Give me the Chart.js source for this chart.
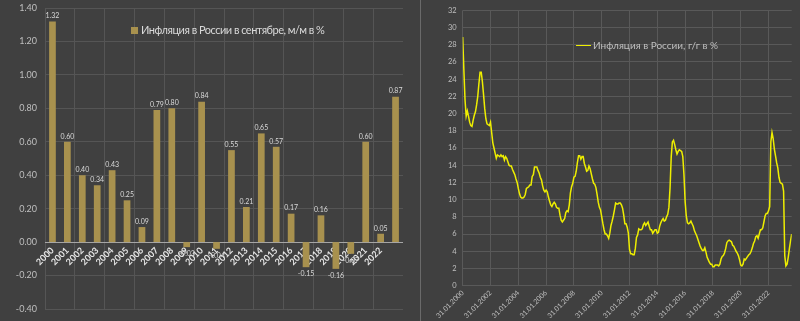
<!DOCTYPE html>
<html><head><meta charset="utf-8">
<script src="https://cdn.jsdelivr.net/npm/chart.js@4.4.0/dist/chart.umd.min.js"></script>
<style>
html,body{margin:0;padding:0;background:#404040;width:800px;height:321px;overflow:hidden;}
#wrap{position:relative;width:800px;height:321px;background:#404040;}
#c1{position:absolute;left:0;top:0;}
#c2{position:absolute;left:403px;top:0;}
.leg{position:absolute;font-family:Lato,'Open Sans',sans-serif;white-space:nowrap;line-height:14px;}
</style></head><body>
<div id="wrap">
<canvas id="c1" width="403" height="321"></canvas>
<canvas id="c2" width="397" height="321"></canvas>
<div style="position:absolute;left:420px;top:0;width:1px;height:321px;background:#6a6a6a"></div>
<div class="leg" style="left:131px;top:23px;font-size:11px;letter-spacing:-0.5px;color:#d9d9d9"><span style="display:inline-block;width:7px;height:7px;background:#a8914e;margin-right:3px;"></span>Инфляция в России в сентябре, м/м в %</div>
<div class="leg" style="left:576px;top:38px;font-size:10px;color:#bfbfbf"><span style="display:inline-block;width:15px;height:1.5px;background:#eeee00;margin-right:2px;vertical-align:3px"></span>Инфляция в России, г/г в %</div>
</div>
<script>
// Left chart: September m/m inflation, %
const years = ['2000','2001','2002','2003','2004','2005','2006','2007','2008','2009','2010','2011',
               '2012','2013','2014','2015','2016','2017','2018','2019','2020','2021','2022',''];
const septMoM = [1.32,0.60,0.40,0.34,0.43,0.25,0.09,0.79,0.80,-0.03,0.84,-0.04,
                 0.55,0.21,0.65,0.57,0.17,-0.15,0.16,-0.16,-0.07,0.60,0.05,0.87];
const barLegend = 'Инфляция в России в сентябре, м/м в %';

// Right chart: y/y inflation, monthly from Jan 2000 to Sep 2023, %
const cpiYoY = [
 28.9,25.1,21.6,19.7,20.3,19.7,19.0,18.6,18.5,19.2,19.8,20.2, // 2000
 21.0,22.0,23.5,24.8,24.8,23.7,22.2,20.6,19.4,18.8,18.7,18.6, // 2001
 19.0,17.8,16.6,16.0,15.4,14.8,15.2,15.1,15.0,15.2,15.0,15.1, // 2002
 14.6,15.0,14.8,14.4,14.0,13.9,13.9,13.5,13.2,12.9,12.4,12.0, // 2003
 11.3,10.7,10.3,10.2,10.2,10.3,10.6,11.3,11.4,11.5,11.7,11.7, // 2004
 12.7,12.9,13.8,13.8,13.8,13.4,13.1,12.6,12.3,11.6,11.1,10.9, // 2005
 11.1,10.9,10.3,9.8,9.4,9.2,9.5,9.7,9.5,9.1,9.0,9.0,         // 2006
 8.2,7.6,7.4,7.6,7.8,8.5,8.7,8.6,9.4,10.8,11.5,11.9,         // 2007
 12.6,12.7,13.3,14.3,15.1,15.1,14.7,15.0,15.0,14.2,13.8,13.3, // 2008
 13.4,13.9,13.6,13.0,12.4,11.9,11.8,11.4,10.6,9.7,9.1,8.8,   // 2009
 8.0,7.2,6.5,6.0,6.0,5.8,5.5,6.1,7.0,7.5,8.1,8.8,            // 2010
 9.6,9.5,9.5,9.6,9.6,9.4,9.0,8.2,7.2,7.2,6.8,6.1,            // 2011
 4.2,3.7,3.7,3.6,3.6,4.3,5.6,5.9,6.6,6.5,6.5,6.6,            // 2012
 7.1,7.3,7.0,7.2,7.4,6.9,6.5,6.5,6.1,6.3,6.5,6.5,            // 2013
 6.1,6.2,6.9,7.3,7.6,7.8,7.5,7.6,8.0,8.3,9.1,11.4,           // 2014
 15.0,16.7,16.9,16.4,15.8,15.3,15.6,15.8,15.7,15.6,15.0,12.9, // 2015
 9.8,8.1,7.3,7.2,7.3,7.5,7.2,6.9,6.4,6.1,5.8,5.4,            // 2016
 5.0,4.6,4.3,4.1,4.1,4.4,3.9,3.3,3.0,2.7,2.5,2.5,            // 2017
 2.2,2.2,2.4,2.4,2.4,2.3,2.5,3.1,3.4,3.5,3.8,4.3,            // 2018
 5.0,5.2,5.3,5.2,5.1,4.7,4.6,4.3,4.0,3.8,3.5,3.0,            // 2019
 2.4,2.3,2.5,3.1,3.0,3.2,3.4,3.6,3.7,4.0,4.4,4.9,            // 2020
 5.2,5.7,5.8,5.5,6.0,6.5,6.5,6.7,7.4,8.1,8.4,8.4,            // 2021
 8.7,9.2,16.7,17.8,17.1,15.9,15.1,14.3,13.7,12.6,12.0,11.9,  // 2022
 11.8,11.0,3.5,2.3,2.5,3.3,4.3,5.2,6.0                       // 2023
];
const dateTicks = ['31.01.2000','31.01.2002','31.01.2004','31.01.2006','31.01.2008','31.01.2010',
                   '31.01.2012','31.01.2014','31.01.2016','31.01.2018','31.01.2020','31.01.2022'];
const lineLegend = 'Инфляция в России, г/г в %';

const barLabels = {
  id: 'barLabels',
  afterDatasetsDraw(chart) {
    const ctx = chart.ctx;
    const meta = chart.getDatasetMeta(0);
    const data = chart.data.datasets[0].data;
    ctx.save();
    ctx.font = '7px Lato, sans-serif';
    ctx.fillStyle = '#d9d9d9';
    ctx.textAlign = 'center';
    meta.data.forEach((bar, i) => {
      const v = data[i];
      if (v >= 0) { ctx.textBaseline = 'bottom'; ctx.fillText(v.toFixed(2), bar.x, bar.y - 2); }
      else { ctx.textBaseline = 'top'; ctx.fillText(v.toFixed(2), bar.x, bar.y + 3); }
    });
    ctx.restore();
  }
};

new Chart(document.getElementById('c1'), {
  type: 'bar',
  data: { labels: years, datasets: [{ label: barLegend, data: septMoM, backgroundColor: '#a8914e',
          barPercentage: 0.45, categoryPercentage: 1 }] },
  options: {
    responsive: false, animation: false,
    layout: { padding: { top: 8, bottom: 12, left: 0, right: 0 } },
    plugins: { legend: { display: false }, tooltip: { enabled: false } },
    scales: {
      x: {
        position: { y: 0 },
        afterFit: s => { s.paddingRight = 0; },
        grid: { offset: true, drawTicks: false, color: c => (c.index % 2 === 0 ? '#555555' : 'rgba(0,0,0,0)') },
        border: { color: '#a6a6a6', width: 1 },
        ticks: { autoSkip: false, maxRotation: 45, minRotation: 45, padding: 3, color: '#e6e6e6',
                 font: { family: 'Lato', size: 9, weight: 'bold' } }
      },
      y: {
        min: -0.4, max: 1.4,
        afterFit: s => { s.width = 45; s.paddingTop = 0; s.paddingBottom = 0; },
        grid: { color: '#555555', drawTicks: false },
        border: { display: false },
        ticks: { stepSize: 0.2, padding: 8, color: '#bfbfbf', font: { family: 'Lato', size: 9 },
                 callback: v => (Math.abs(v) < 1e-9 ? 0 : Number(v)).toFixed(2) }
      }
    }
  },
  plugins: [barLabels]
});

new Chart(document.getElementById('c2'), {
  type: 'line',
  data: { datasets: [{ label: lineLegend, data: cpiYoY.map((v, i) => ({ x: i, y: v })),
          borderColor: '#eeee00', borderWidth: 1.5, pointRadius: 0, tension: 0, fill: false }] },
  options: {
    responsive: false, animation: false,
    layout: { padding: { top: 10.3, right: 8.3, left: 0, bottom: 0 } },
    plugins: { legend: { display: false }, tooltip: { enabled: false } },
    scales: {
      x: {
        type: 'linear', min: 0, max: cpiYoY.length - 1,
        afterFit: s => { s.height = 35.3; s.paddingLeft = 0; s.paddingRight = 0; },
        grid: { color: '#595959', drawTicks: false },
        border: { display: false },
        ticks: { stepSize: 24, includeBounds: false, autoSkip: false, maxRotation: 45, minRotation: 45,
                 padding: 3, color: '#bfbfbf', font: { family: 'Lato', size: 7 },
                 callback: v => { const k = Math.round(v / 24); return (Math.abs(v - k * 24) < 0.01 && dateTicks[k]) ? dateTicks[k] : ''; } }
      },
      y: {
        min: 0, max: 32,
        afterFit: s => { s.width = 59.7; s.paddingTop = 0; s.paddingBottom = 0; },
        grid: { color: '#595959', drawTicks: false },
        border: { display: false },
        ticks: { stepSize: 2, padding: 6, color: '#bfbfbf', font: { family: 'Lato', size: 7.5 } }
      }
    }
  }
});
</script>
</body></html>
